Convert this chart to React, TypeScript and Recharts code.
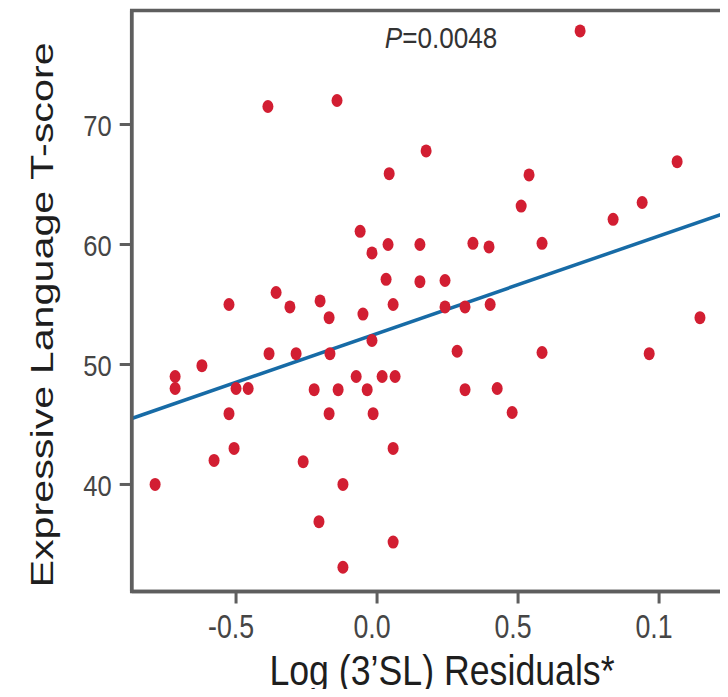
import React from 'react';
import { ScatterChart, Scatter, XAxis, YAxis, ReferenceLine, ReferenceArea } from 'recharts';

// Log (3'SL) residuals (x) and Expressive Language T-score (y)
const residuals = [
  0.720, -0.387, -0.142, 0.174, 0.043, 0.539, 1.064, 0.511, 0.940, 0.837,
  -0.060, -0.018, 0.039, 0.152, 0.340, 0.397, 0.585, 0.032, 0.152, 0.241,
  -0.358, -0.525, -0.309, -0.202, -0.170, -0.050, 0.057, 0.241, 0.312, 0.401,
  1.145, -0.018, -0.167, -0.383, -0.287, 0.284, 0.585, 0.965, -0.716, -0.716,
  -0.621, -0.500, -0.457, -0.223, -0.138, -0.074, -0.035, 0.018, 0.064, 0.312,
  0.426, -0.525, -0.170, -0.014, 0.479, -0.507, 0.057, -0.578, -0.262, -0.787,
  -0.121, -0.206, 0.057, -0.121,
];
const tScores = [
  77.8, 71.5, 72.0, 67.8, 65.9, 65.8, 66.9, 63.2, 63.5, 62.1,
  61.1, 59.3, 60.0, 60.0, 60.1, 59.8, 60.1, 57.1, 56.9, 57.0,
  56.0, 55.0, 54.8, 55.3, 53.9, 54.2, 55.0, 54.8, 54.8, 55.0,
  53.9, 52.0, 50.9, 50.9, 50.9, 51.1, 51.0, 50.9, 49.0, 48.0,
  49.9, 48.0, 48.0, 47.9, 47.9, 49.0, 47.9, 49.0, 49.0, 47.9,
  48.0, 45.9, 45.9, 45.9, 46.0, 43.0, 43.0, 42.0, 41.9, 40.0,
  40.0, 36.9, 35.2, 33.1,
];

const xTicks = [-0.5, 0, 0.5, 1.0];
const xTickLabels = ['-0.5', '0.0', '0.5', '0.1'];
const yTicks = [40, 50, 60, 70];
const yTickLabels = ['40', '50', '60', '70'];

const xDomain = [-0.87, 1.232];
const yDomain = [31.08, 79.5];

// fitted regression line end points
const fitX = [-0.87, 1.232];
const fitY = [45.5, 62.6];

const pValueText = '=0.0048';
const xLabel = 'Log (3\u2019SL) Residuals*';
const yLabel = 'Expressive Language T-score';

const data = residuals.map((x, i) => ({ x, y: tScores[i] }));

const FONT = '"Liberation Sans", Arial, Helvetica, sans-serif';
const FRAME = '#5e5e5e';

const XTick = (props: any) => {
  const { x, y, payload } = props;
  const idx = xTicks.indexOf(payload.value);
  return (
    <text
      transform={`translate(${x - 5},${y + 34.5}) scale(0.81,1)`}
      textAnchor="middle"
      fontFamily={FONT}
      fontSize={33}
      fill="#454545"
    >
      {idx >= 0 ? xTickLabels[idx] : payload.value}
    </text>
  );
};

const YTick = (props: any) => {
  const { x, y, payload } = props;
  const idx = yTicks.indexOf(payload.value);
  return (
    <text
      transform={`translate(${x},${y + 11.7}) scale(0.88,1)`}
      textAnchor="end"
      fontFamily={FONT}
      fontSize={29}
      fill="#454545"
    >
      {idx >= 0 ? yTickLabels[idx] : payload.value}
    </text>
  );
};

const XLabel = () => (
  <g>
    <text
      transform="translate(434,685) scale(0.85,1)"
      textAnchor="middle"
      fontFamily={FONT}
      fontSize={42}
      fill="#1e1e1e"
    >
      {xLabel}
    </text>
    <text
      transform="translate(433,48) scale(0.87,1)"
      textAnchor="middle"
      fontFamily={FONT}
      fontSize={30}
      fill="#333"
    >
      <tspan fontStyle="italic">P</tspan>
      {pValueText}
    </text>
  </g>
);

const YLabel = () => (
  <text
    transform="translate(45,315) rotate(-90) scale(1.29,1)"
    textAnchor="middle"
    fontFamily={FONT}
    fontSize={32}
    fill="#1e1e1e"
  >
    {yLabel}
  </text>
);

const Dot = (props: any) => {
  const { cx, cy } = props;
  if (cx == null || cy == null) return <g />;
  return <ellipse cx={cx} cy={cy} rx={5.5} ry={6.5} fill="#d21e32" />;
};

export default function App() {
  return (
    <div style={{ width: 720, height: 697, marginTop: -8, marginBottom: -8 }}>
      <ScatterChart
        width={720}
        height={697}
        margin={{ top: 10.5, right: 3.5, bottom: 5.5, left: 3.7 }}
      >
        <XAxis
          type="number"
          dataKey="x"
          domain={xDomain}
          allowDataOverflow
          ticks={xTicks}
          interval={0}
          height={100}
          tickSize={12}
          tickMargin={0}
          axisLine={{ stroke: FRAME, strokeWidth: 3.5 }}
          tickLine={{ stroke: FRAME, strokeWidth: 3 }}
          tick={XTick}
          label={XLabel}
        />
        <YAxis
          type="number"
          dataKey="y"
          domain={yDomain}
          allowDataOverflow
          ticks={yTicks}
          interval={0}
          width={120}
          tickSize={12}
          tickMargin={8}
          axisLine={{ stroke: FRAME, strokeWidth: 3.5 }}
          tickLine={{ stroke: FRAME, strokeWidth: 3 }}
          tick={YTick}
          label={YLabel}
        />
        <ReferenceArea
          x1={xDomain[0]}
          x2={xDomain[1]}
          y1={yDomain[0]}
          y2={yDomain[1]}
          fill="none"
          fillOpacity={0}
          stroke={FRAME}
          strokeWidth={3.5}
          ifOverflow="visible"
        />
        <ReferenceLine
          segment={[
            { x: fitX[0], y: fitY[0] },
            { x: fitX[1], y: fitY[1] },
          ]}
          stroke="#176ba6"
          strokeWidth={3.5}
          ifOverflow="visible"
        />
        <Scatter data={data} shape={Dot} isAnimationActive={false} />
      </ScatterChart>
    </div>
  );
}
